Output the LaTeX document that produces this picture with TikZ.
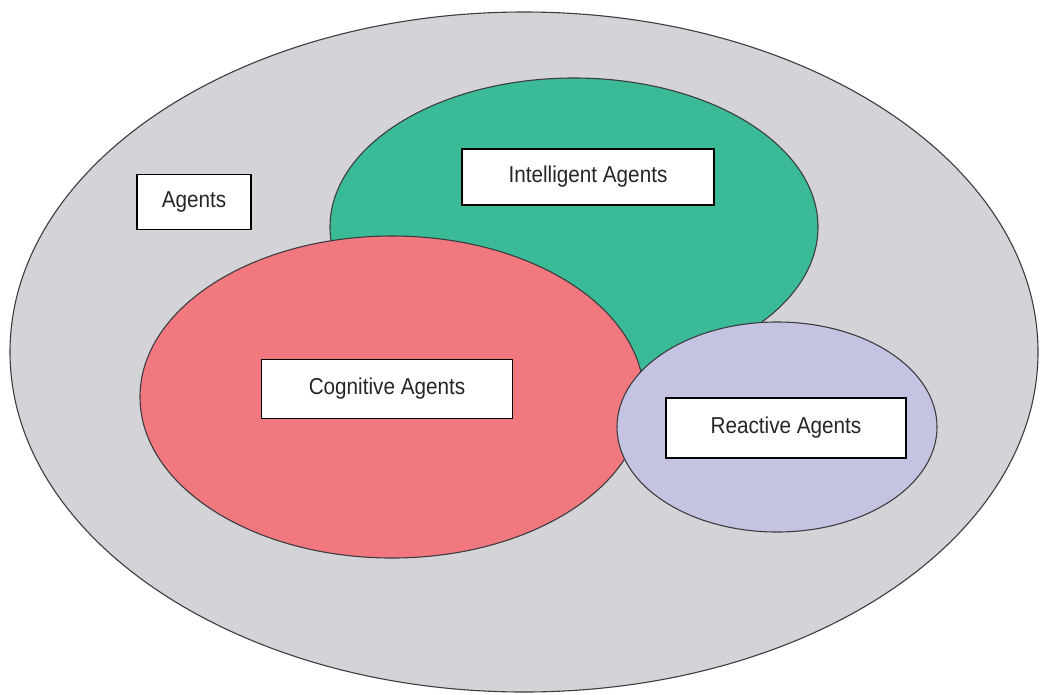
\documentclass[tikz,border=0pt]{standalone}
\usepackage{fontspec}
\setmainfont{Liberation Sans}
\newfontfamily\labelfont[FakeStretch=0.9]{Liberation Sans}
\definecolor{outergray}{RGB}{211,211,216}
\definecolor{intgreen}{RGB}{58,186,150}
\definecolor{cogred}{RGB}{240,120,126}
\definecolor{reablue}{RGB}{196,196,226}
\definecolor{edgegray}{RGB}{60,60,65}
\begin{document}
\begin{tikzpicture}[x=1pt,y=-1pt,
  setshape/.style={draw=edgegray,line width=1.1pt},
  labelbox/.style={draw=black,line width=1.8pt,fill=white,inner sep=0pt,font=\labelfont\fontsize{23}{26}\selectfont,text=black!85}]
\useasboundingbox (0,0) rectangle (1040,694);
\fill[white] (0,0) rectangle (1040,694);
\draw[setshape,fill=outergray] (524,352) ellipse [x radius=514, y radius=340];
\draw[setshape,fill=intgreen] (574,227) ellipse [x radius=244, y radius=149];
\draw[setshape,fill=cogred] (392,397) ellipse [x radius=252, y radius=161];
\draw[setshape,fill=reablue] (777,427) ellipse [x radius=160, y radius=105];
\node[labelbox,minimum width=114pt,minimum height=55pt] (agents) at (194,202) {Agents};
\node[labelbox,minimum width=252pt,minimum height=56pt] (intel) at (588,177) {Intelligent Agents};
\node[labelbox,minimum width=251pt,minimum height=59pt] (cog) at (387,389) {Cognitive Agents};
\node[labelbox,minimum width=240pt,minimum height=60pt] (reac) at (786,428) {Reactive Agents};
\end{tikzpicture}
\end{document}
